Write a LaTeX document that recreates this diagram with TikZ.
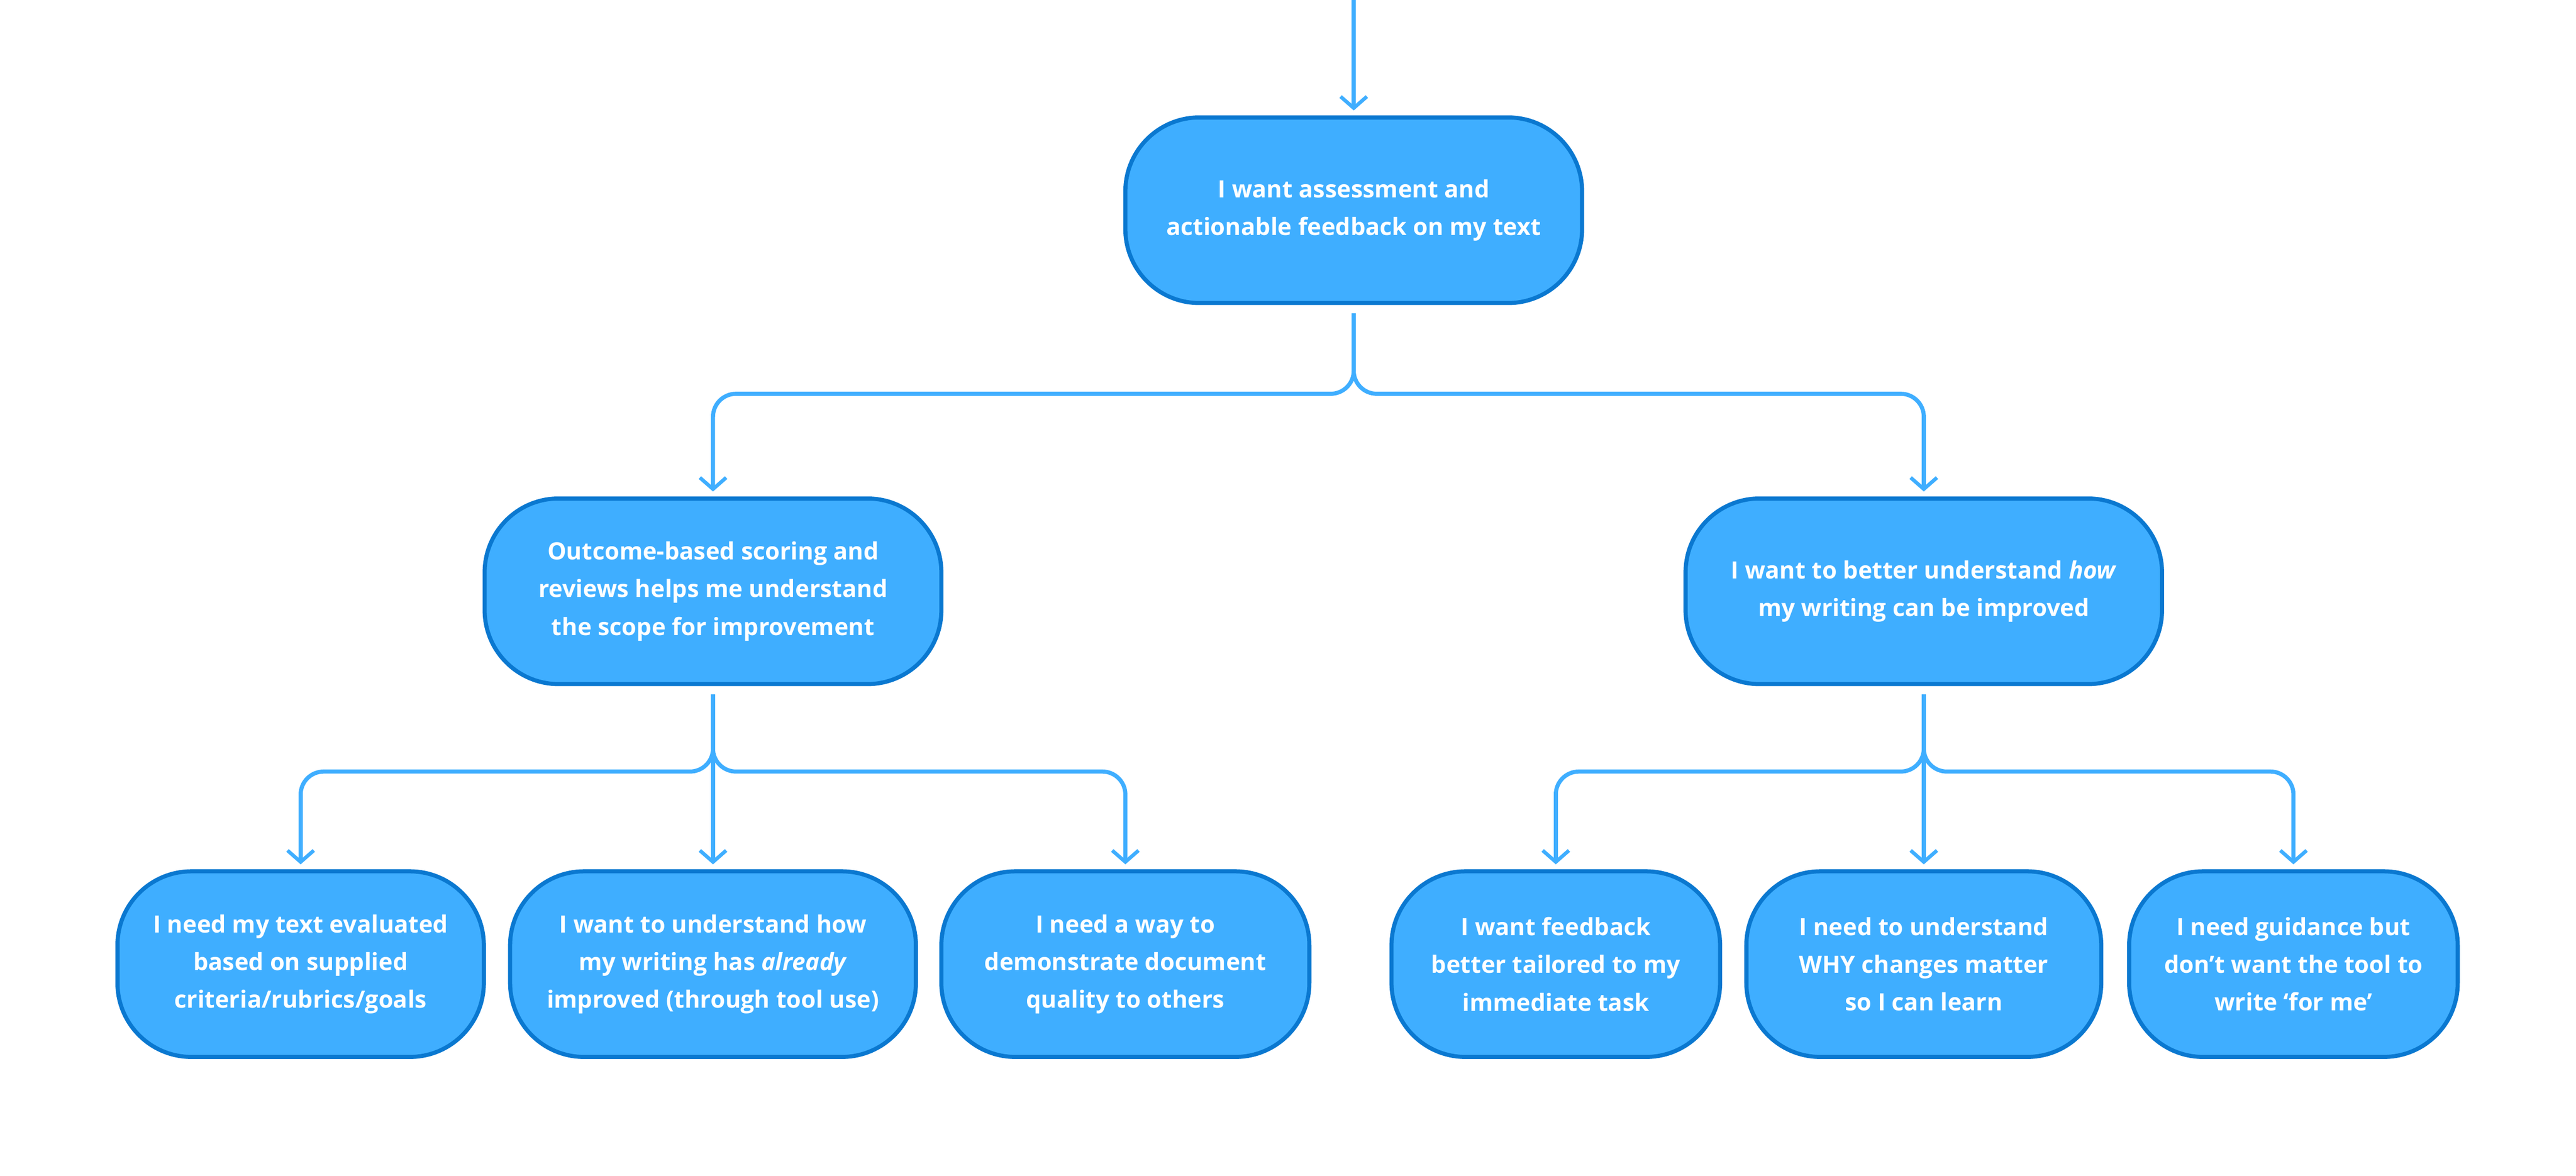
\documentclass[tikz,border=0pt]{standalone}
\usepackage{fontspec}
\setmainfont{Open Sans}
\usetikzlibrary{arrows.meta,positioning}
\definecolor{boxfill}{HTML}{3FAEFF}
\definecolor{boxline}{HTML}{0A78D0}
\definecolor{linkcol}{HTML}{3FAEFF}

\begin{document}
\begin{tikzpicture}[
		x=1pt, y=1pt,
		need/.style={draw=boxline, fill=boxfill, line width=2.5pt, rounded corners=45pt, minimum height=113pt, align=center, text=white, font=\bfseries\fontsize{14.5}{23}\selectfont},
		link/.style={draw=linkcol, line width=2.5pt, rounded corners=14pt, -{Straight Barb[length=7pt,width=16pt,line width=2.2pt]}, shorten >=3pt},
	]
		\useasboundingbox (0,0) rectangle (1568,-716);
		\coordinate (in) at (824,0);
		
		\node (goal) [need, minimum width=278pt] at (824,-128) {I want assessment and\\actionable feedback on my text};
		\node (score) [need, minimum width=278pt] at (434,-360) {Outcome-based scoring and\\reviews helps me understand\\the scope for improvement};
		\node (how) [need, minimum width=290pt] at (1171,-360) {I want to better understand \textit{how}\\my writing can be improved};
		
		\node (crit) [need, minimum width=223pt] at (183,-587) {I need my text evaluated\\based on supplied\\criteria/rubrics/goals};
		\node (progress) [need, minimum width=247pt] at (434,-587) {I want to understand how\\my writing has \textit{already}\\improved (through tool use)};
		\node (demo) [need, minimum width=224pt] at (685,-587) {I need a way to\\demonstrate document\\quality to others};
		\node (tailor) [need, minimum width=200pt] at (947,-587) {I want feedback\\better tailored to my\\immediate task};
		\node (why) [need, minimum width=216pt] at (1171,-587) {I need to understand\\WHY changes matter\\so I can learn};
		\node (guide) [need, minimum width=200pt] at (1396,-587) {I need guidance but\\don’t want the tool to\\write ‘for me’};
		
		\draw[link] (in) -- (goal);
		\draw[link, shorten <=5pt] (goal.south) -- ++(0,-54) -| (score.north);
		\draw[link, shorten <=5pt] (goal.south) -- ++(0,-54) -| (how.north);
		
		\foreach \kid in {crit,progress,demo}
			\draw[link, shorten <=5pt] (score.south) -- ++(0,-52) -| (\kid.north);
		\foreach \kid in {tailor,why,guide}
			\draw[link, shorten <=5pt] (how.south) -- ++(0,-52) -| (\kid.north);
	\end{tikzpicture}
\end{document}
